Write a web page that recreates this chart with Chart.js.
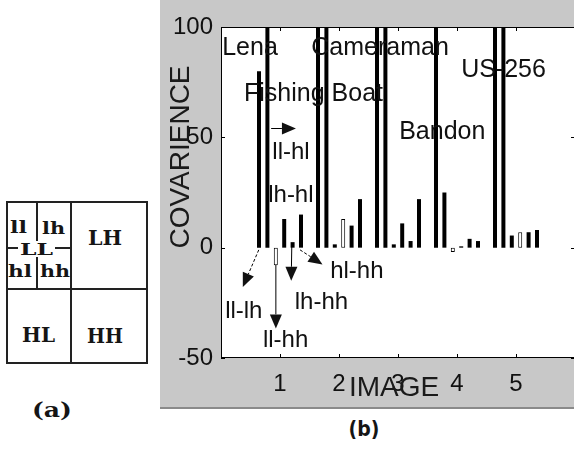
<!DOCTYPE html>
<html>
<head>
<meta charset="utf-8">
<script src="https://cdn.jsdelivr.net/npm/chart.js@4.4.1/dist/chart.umd.min.js"></script>
<style>
    body { margin: 0; width: 574px; height: 449px; overflow: hidden; background: #fff; position: relative; }
    #page { position: absolute; left: 0; top: 0; }
    #fig { position: absolute; left: 160px; top: 0; width: 416px; height: 407px; background: #c8c8c8; border-bottom: 2px solid #8a8a8a; }
</style>
</head>
<body>
<svg id="page" width="574" height="449">
    <!-- (a) wavelet sub-band layout -->
    <g stroke="#222" stroke-width="2" fill="none">
        <rect x="7" y="202" width="140" height="161"/>
        <line x1="71" y1="202" x2="71" y2="363"/>
        <line x1="7" y1="289" x2="147" y2="289"/>
        <line x1="37" y1="202" x2="37" y2="241"/>
        <line x1="37" y1="257" x2="37" y2="289"/>
        <line x1="7" y1="248" x2="18" y2="248"/>
        <line x1="55" y1="248" x2="71" y2="248"/>
    </g>
    <g font-family="'DejaVu Serif', serif" font-weight="bold" fill="#151515">
        <text x="10" y="233" font-size="16" textLength="17" lengthAdjust="spacingAndGlyphs">ll</text>
        <text x="42" y="234" font-size="16" textLength="23" lengthAdjust="spacingAndGlyphs">lh</text>
        <text x="20" y="255" font-size="16" textLength="33" lengthAdjust="spacingAndGlyphs">LL</text>
        <text x="8" y="277" font-size="16" textLength="24" lengthAdjust="spacingAndGlyphs">hl</text>
        <text x="40" y="277" font-size="16" textLength="30" lengthAdjust="spacingAndGlyphs">hh</text>
        <text x="88" y="245" font-size="20" textLength="34" lengthAdjust="spacingAndGlyphs">LH</text>
        <text x="22" y="342" font-size="20" textLength="33" lengthAdjust="spacingAndGlyphs">HL</text>
        <text x="87" y="343" font-size="20" textLength="36" lengthAdjust="spacingAndGlyphs">HH</text>
        <text x="32" y="417" font-size="20" textLength="40" lengthAdjust="spacingAndGlyphs">(a)</text>
    </g>
    <text x="364" y="436" text-anchor="middle" font-family="'DejaVu Sans Condensed', 'DejaVu Sans', sans-serif" font-weight="bold" font-size="21" fill="#151515">(b)</text>
</svg>
<div id="fig"><canvas id="covChart" width="416" height="407"></canvas></div>
<script>
// images along the x axis
const images = ['Lena', 'Fishing Boat', 'Cameraman', 'Bandon', 'US-256'];
const imageX = [1, 2, 3, 4, 5];
const yTicks = [-50, 0, 50, 100];

// covariance between sub-bands, one value per image
// (200 = bar runs off the top of the axes)
const pairs = ['ll-lh', 'll-hl', 'll-hh', 'lh-hl', 'lh-hh', 'hl-hh'];
const llLh = [80, 200, 200, 200, 200];
const llHl = [200, 200, 200, 25, 200];
const llHh = [-8, 1.5, 1.5, -2, 5.5];
const lhHl = [13, 13, 11, 0.6, 7];
const lhHh = [2.5, 10, 3, 4, 7];
const hlHh = [15, 22, 22, 3, 8];
const series = [llLh, llHl, llHh, lhHl, lhHh, hlHh];

// bars drawn open instead of filled
const outlined = { 'll-hh': [1, 4], 'lh-hl': [2, 5] };

const font = '"Liberation Sans", Arial, sans-serif';

// text written onto the axes (data coordinates)
const notes = [
    { text: 'Lena', x: 0.02, y: 90.5, size: 25 },
    { text: 'Fishing Boat', x: 0.39, y: 69.6, size: 25 },
    { text: 'Cameraman', x: 1.53, y: 90.5, size: 25 },
    { text: 'US-256', x: 4.07, y: 80.5, size: 25 },
    { text: 'Bandon', x: 3.02, y: 52.4, size: 25 },
    { text: 'll-hl', x: 0.87, y: 43.4, size: 24 },
    { text: 'lh-hl', x: 0.8, y: 23.9, size: 24 },
    { text: 'll-lh', x: 0.07, y: -28.7, size: 24 },
    { text: 'll-hh', x: 0.71, y: -41.8, size: 24 },
    { text: 'lh-hh', x: 1.25, y: -24.6, size: 24 },
    { text: 'hl-hh', x: 1.85, y: -10.6, size: 24 }
];

const arrows = [
    { from: [0.85, 54], to: [1.27, 54], dashed: false },
    { from: [0.64, -1], to: [0.37, -17.8], dashed: true },
    { from: [0.93, -7.8], to: [0.93, -36.6], dashed: false },
    { from: [1.2, 1.2], to: [1.19, -15], dashed: false },
    { from: [1.34, -1], to: [1.72, -7.6], dashed: true }
];

const axesBox = {
    id: 'axesBox',
    beforeDraw(chart) {
        const { ctx, chartArea: a } = chart;
        ctx.save();
        ctx.fillStyle = '#fff';
        ctx.fillRect(a.left, a.top, a.right - a.left, a.bottom - a.top);
        ctx.restore();
    },
    afterDatasetsDraw(chart) {
        const { ctx, chartArea: a, scales: { x, y } } = chart;
        ctx.save();
        ctx.strokeStyle = '#000';
        ctx.lineWidth = 1;
        ctx.strokeRect(a.left + 0.5, a.top + 0.5, a.right - a.left - 1, a.bottom - a.top - 1);

        // inward tick marks on all four sides
        ctx.beginPath();
        yTicks.forEach(v => {
            const py = Math.round(y.getPixelForValue(v)) + 0.5;
            ctx.moveTo(a.left, py); ctx.lineTo(a.left + 4, py);
            ctx.moveTo(a.right - 4, py); ctx.lineTo(a.right, py);
        });
        imageX.forEach(v => {
            const px = Math.round(x.getPixelForValue(v)) + 0.5;
            ctx.moveTo(px, a.bottom); ctx.lineTo(px, a.bottom - 4);
            ctx.moveTo(px, a.top); ctx.lineTo(px, a.top + 4);
        });
        ctx.stroke();

        // labels
        ctx.fillStyle = '#111';
        ctx.textBaseline = 'middle';
        ctx.textAlign = 'left';
        notes.forEach(n => {
            ctx.font = `${n.size}px ${font}`;
            ctx.fillText(n.text, x.getPixelForValue(n.x), y.getPixelForValue(n.y));
        });

        // arrows
        arrows.forEach(ar => {
            const x0 = x.getPixelForValue(ar.from[0]), y0 = y.getPixelForValue(ar.from[1]);
            const x1 = x.getPixelForValue(ar.to[0]), y1 = y.getPixelForValue(ar.to[1]);
            const ang = Math.atan2(y1 - y0, x1 - x0);
            const len = 14, half = 6;
            ctx.setLineDash(ar.dashed ? [3, 2] : []);
            ctx.beginPath();
            ctx.moveTo(x0, y0);
            ctx.lineTo(x1 - len * Math.cos(ang), y1 - len * Math.sin(ang));
            ctx.stroke();
            ctx.setLineDash([]);
            ctx.beginPath();
            ctx.moveTo(x1, y1);
            ctx.lineTo(x1 - len * Math.cos(ang) + half * Math.sin(ang), y1 - len * Math.sin(ang) - half * Math.cos(ang));
            ctx.lineTo(x1 - len * Math.cos(ang) - half * Math.sin(ang), y1 - len * Math.sin(ang) + half * Math.cos(ang));
            ctx.closePath();
            ctx.fill();
        });

        // axis titles (sit where MATLAB put them, not centred)
        ctx.fillStyle = '#1a1a1a';
        ctx.textAlign = 'center';
        ctx.font = `28px ${font}`;
        ctx.fillText('IMAGE', 234, 388);
        ctx.translate(21, 157);
        ctx.rotate(-Math.PI / 2);
        ctx.fillText('COVARIENCE', 0, 0);
        ctx.restore();
    }
};

const isOpen = (pair, img) => (outlined[pair] || []).includes(img);

const covChart = new Chart(document.getElementById('covChart'), {
    type: 'bar',
    data: {
        datasets: pairs.map((pair, i) => ({
            label: pair,
            data: imageX.map((img, j) => ({ x: img, y: series[i][j] })),
            backgroundColor: imageX.map(img => isOpen(pair, img) ? '#fff' : '#000'),
            borderColor: '#000',
            borderWidth: imageX.map(img => isOpen(pair, img) ? 1 : 0),
            borderSkipped: false,
            categoryPercentage: 0.854,
            barPercentage: 0.476
        }))
    },
    options: {
        responsive: false,
        animation: false,
        layout: { padding: { top: 27, right: 1, left: 0, bottom: 0 } },
        plugins: {
            legend: { display: false },
            tooltip: { enabled: false }
        },
        scales: {
            x: {
                type: 'linear',
                min: 0,
                max: 6,
                offset: false,
                afterBuildTicks: s => { s.ticks = imageX.map(v => ({ value: v })); },
                afterFit: s => { s.height = 49; },
                grid: { display: false, drawTicks: false },
                border: { display: false },
                ticks: { font: { size: 24, family: font }, color: '#111', padding: 12, callback: v => String(v) }
            },
            y: {
                min: -50,
                max: 100,
                afterBuildTicks: s => { s.ticks = yTicks.map(v => ({ value: v })); },
                afterFit: s => { s.width = 61; },
                grid: { display: false, drawTicks: false },
                border: { display: false },
                ticks: { font: { size: 24, family: font }, color: '#111', padding: 8, callback: v => String(v) }
            }
        }
    },
    plugins: [axesBox]
});
</script>
</body>
</html>
